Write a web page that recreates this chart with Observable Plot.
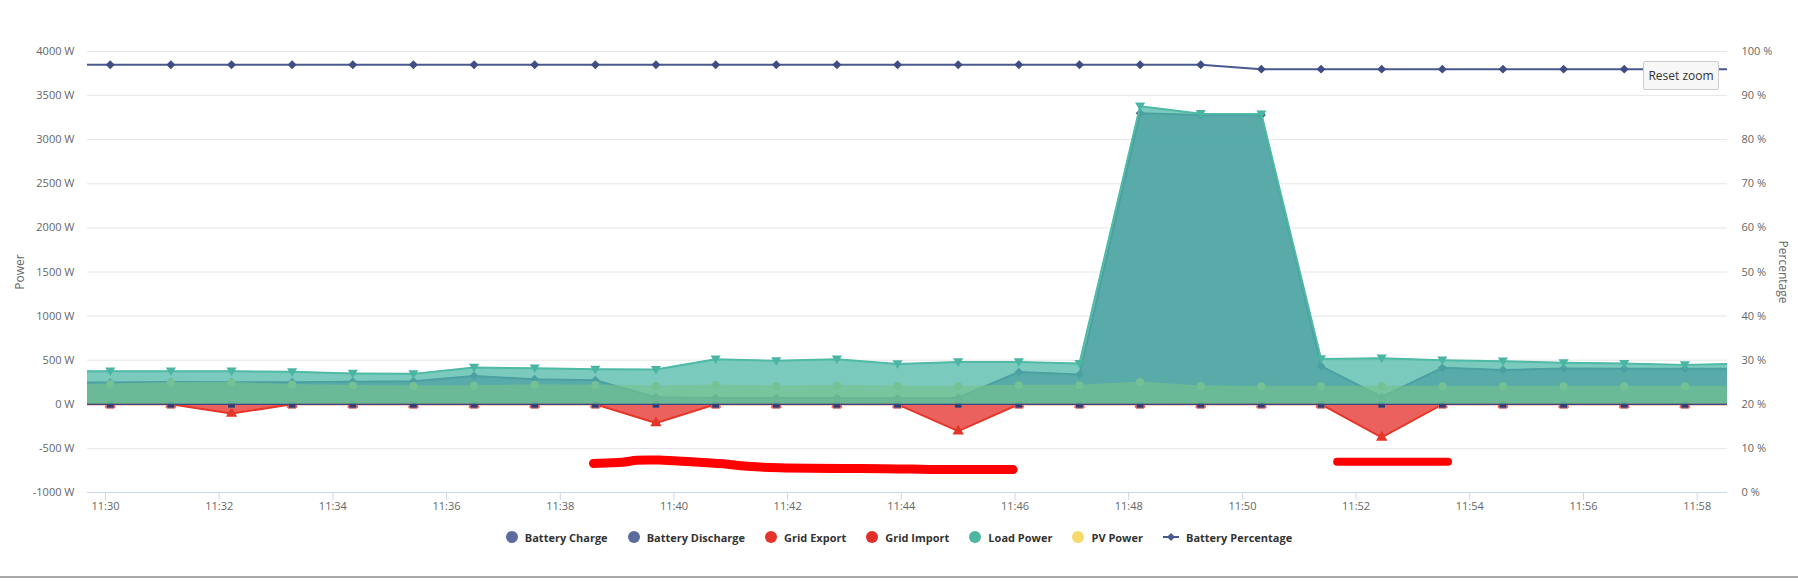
<!DOCTYPE html>
<html><head><meta charset="utf-8">
<script src="https://cdn.jsdelivr.net/npm/d3@7"></script>
<script src="https://cdn.jsdelivr.net/npm/@observablehq/plot@0.6"></script>
<style>
html,body{margin:0;padding:0;background:#fff;}
body{width:1798px;height:581px;position:relative;overflow:hidden;font-family:'Open Sans',sans-serif;}
#chart{position:absolute;left:0;top:0;}
#legend{position:absolute;left:0;top:528px;width:1798px;height:18px;display:flex;justify-content:center;align-items:center;gap:20px;font-weight:700;font-size:11px;color:#333;}
.item{display:flex;align-items:center;gap:7px;white-space:nowrap;}
.dot{width:12px;height:12px;border-radius:50%;}
#reset{position:absolute;left:1643px;top:61px;width:74px;height:27px;border:1px solid #ccc;border-radius:2px;background:#f7f7f7;color:#333;font-size:12px;display:flex;align-items:center;justify-content:center;}
#bottom{position:absolute;left:0;top:576px;width:1798px;height:2px;background:#aaa;}
</style></head><body>
<div id="chart"></div>
<div id="legend"></div>
<div id="reset">Reset zoom</div>
<div id="bottom"></div>
<script>
// ---- data ----
const times = ["11:29:02","11:30:05","11:31:09","11:32:13","11:33:17","11:34:21","11:35:25","11:36:29","11:37:33","11:38:37","11:39:41","11:40:44","11:41:48","11:42:52","11:43:56","11:45:00","11:46:04","11:47:08","11:48:12","11:49:16","11:50:20","11:51:23","11:52:27","11:53:31","11:54:35","11:55:39","11:56:43","11:57:47","11:58:51"];
const loadPower        = [375,375,375,375,368,349,345,417,409,396,394,512,493,512,457,480,481,462,3380,3295,3290,515,523,500,489,470,462,447,462];
const batteryDischarge = [246,246,252,250,250,255,262,322,284,273,80,72,72,72,70,75,365,337,3300,3280,3280,432,83,413,390,405,402,402,402];
const pvPower          = [228,229,248,248,224,212,208,210,222,218,208,220,208,212,208,206,216,216,254,208,206,205,205,205,205,205,205,205,205];
const gridImport       = [0,0,0,-105,0,0,0,0,0,0,-212,0,0,0,0,-305,0,0,0,0,0,0,-375,0,0,0,0,0,0];
const gridExport       = [0,0,0,0,0,0,0,0,0,0,0,0,0,0,0,0,0,0,0,0,0,0,0,0,0,0,0,0,0];
const batteryCharge    = [0,0,0,0,0,0,0,0,0,0,0,0,0,0,0,0,0,0,0,0,0,0,0,0,0,0,0,0,0];
const batteryPercentage= [97,97,97,97,97,97,97,97,97,97,97,97,97,97,97,97,97,97,97,97,96,96,96,96,96,96,96,96,96];

const xTickLabels = ["11:30","11:32","11:34","11:36","11:38","11:40","11:42","11:44","11:46","11:48","11:50","11:52","11:54","11:56","11:58"];
const powerTicks = [-1000,-500,0,500,1000,1500,2000,2500,3000,3500,4000];
const percentTicks = [0,10,20,30,40,50,60,70,80,90,100];
const xDomain = ["11:29:41","11:58:32"];

// hand-drawn red highlight strokes on the reference
const mark1Times = ["11:38:35","11:39:10","11:39:17","11:39:46","11:40:07","11:40:42","11:40:59","11:41:31","11:44:06","11:44:13","11:45:58"];
const mark1Vals  = [-670,-660,-630,-630,-645,-668,-680,-728,-728,-740,-740];
const mark2Times = ["11:51:40","11:53:37"];
const mark2Vals  = [-652,-652];

const legendItems = [
  {name:"Battery Charge", color:"#5b6b9e"},
  {name:"Battery Discharge", color:"#5b6b9e"},
  {name:"Grid Export", color:"#e53528"},
  {name:"Grid Import", color:"#e02f2a"},
  {name:"Load Power", color:"#4db6a0"},
  {name:"PV Power", color:"#f7d96a"},
  {name:"Battery Percentage", color:"#4a5a90", line:true}
];

// ---- helpers ----
const T = s => new Date(`2024-01-01T${s}Z`);
const pctToW = p => p * 50 - 1000; // secondary axis 0..100 % spans -1000..4000 W
const rows = vals => times.map((s, i) => ({t: T(s), v: vals[i]}));
const loadRows = rows(loadPower), disRows = rows(batteryDischarge), pvRows = rows(pvPower);
const impRows = rows(gridImport), expRows = rows(gridExport), chgRows = rows(batteryCharge);
const pctRows = rows(batteryPercentage.map(pctToW));
const m1 = mark1Times.map((s,i)=>({t:T(s), v:mark1Vals[i]}));
const m2 = mark2Times.map((s,i)=>({t:T(s), v:mark2Vals[i]}));
const fmt = d3.utcFormat("%H:%M");

const triDown = {draw(ctx, size){ const s = Math.sqrt(size); ctx.moveTo(-0.62*s, -0.45*s); ctx.lineTo(0.62*s, -0.45*s); ctx.lineTo(0, 0.6*s); ctx.closePath(); }};

const teal = "#4db8a8", blue = "#4a5a8c", red = "#e53935", pv = "#75c28e";
const zero = () => 0;

const chart = Plot.plot({
  width: 1798, height: 520,
  marginTop: 51, marginBottom: 28, marginLeft: 87, marginRight: 71,
  style: {fontFamily: "'Open Sans', sans-serif", fontSize: "11px", background: "transparent", color: "#666"},
  x: {type: "utc", domain: xDomain.map(T)},
  y: {domain: [-1000, 4000]},
  marks: [
    Plot.gridY(powerTicks, {stroke: "#e6e6e6", strokeOpacity: 1, strokeWidth: 1}),
    Plot.axisY(powerTicks, {anchor: "left", tickSize: 0, tickPadding: 13, tickFormat: d => `${d} W`, label: null, fill: "#666"}),
    Plot.axisY(percentTicks.map(pctToW), {anchor: "right", tickSize: 0, tickPadding: 14, tickFormat: w => `${Math.round((w + 1000) / 50)} %`, label: null, fill: "#666", textAnchor: "start"}),
    Plot.axisX(xTickLabels.map(T), {tickSize: 8, tickPadding: 2, stroke: "#ccd6eb", fill: "#666", tickFormat: fmt, label: null}),
    Plot.ruleY([-1000], {stroke: "#ccd6eb"}),
    Plot.text(["Power"], {frameAnchor: "left", dx: -67, rotate: -90, textAnchor: "middle", fill: "#666", fontSize: 12}),
    Plot.text(["Percentage"], {frameAnchor: "right", dx: 55, rotate: 90, textAnchor: "middle", fill: "#666", fontSize: 12}),

    // Battery Discharge
    Plot.areaY(disRows, {x: "t", y1: zero, y2: "v", fill: blue, fillOpacity: 0.75, clip: true}),
    Plot.line(disRows, {x: "t", y: "v", stroke: blue, strokeWidth: 2, clip: true}),
    Plot.dot(disRows, {x: "t", y: "v", symbol: "diamond2", r: 4, fill: blue, clip: true}),
    // Grid Import
    Plot.areaY(impRows, {x: "t", y1: zero, y2: "v", fill: red, fillOpacity: 0.8, clip: true}),
    Plot.line(impRows, {x: "t", y: "v", stroke: "#e53528", strokeWidth: 2, clip: true}),
    Plot.dot(impRows, {x: "t", y: "v", symbol: "triangle", r: 4.2, fill: "#e53528", clip: true}),
    // Battery Charge / Grid Export at zero
    Plot.dot(expRows, {x: "t", y: "v", symbol: "square", r: 4.4, fill: "#323c72", stroke: "#e8706a", strokeWidth: 1, clip: true}),
    // Load Power
    Plot.areaY(loadRows, {x: "t", y1: zero, y2: "v", fill: teal, fillOpacity: 0.75, clip: true}),
    Plot.line(loadRows, {x: "t", y: "v", stroke: "#4fbaa5", strokeWidth: 2, clip: true}),
    Plot.dot(loadRows, {x: "t", y: "v", symbol: triDown, r: 4.6, fill: "#4ab5a3", clip: true}),
    // PV Power
    Plot.areaY(pvRows, {x: "t", y1: zero, y2: "v", fill: pv, fillOpacity: 0.65, clip: true}),
    Plot.dot(pvRows, {x: "t", y: "v", symbol: "circle", r: 4, fill: "#74c196", clip: true}),
    Plot.line(chgRows, {x: "t", y: "v", stroke: "#3d467a", strokeWidth: 1.3, clip: true}),
    // Battery Percentage (secondary axis)
    Plot.line(pctRows, {x: "t", y: "v", stroke: "#4a5a90", strokeWidth: 2, clip: true}),
    Plot.dot(pctRows, {x: "t", y: "v", symbol: "diamond2", r: 4, fill: "#3f4d82", clip: true}),
    // red highlight strokes
    Plot.line(m1, {x: "t", y: "v", stroke: "#ff0000", strokeWidth: 9, strokeLinecap: "round", strokeLinejoin: "round", curve: "basis"}),
    Plot.line(m2, {x: "t", y: "v", stroke: "#ff0000", strokeWidth: 8, strokeLinecap: "round"})
  ]
});
document.getElementById("chart").appendChild(chart);

const legend = document.getElementById("legend");
for (const it of legendItems) {
  const el = document.createElement("div");
  el.className = "item";
  if (it.line) {
    el.innerHTML = `<svg width="16" height="12"><line x1="0" y1="6" x2="16" y2="6" stroke="${it.color}" stroke-width="2"/><path d="M8 2 L12 6 L8 10 L4 6 Z" fill="${it.color}"/></svg>`;
  } else {
    el.innerHTML = `<span class="dot" style="background:${it.color}"></span>`;
  }
  const txt = document.createElement("span");
  txt.textContent = it.name;
  el.appendChild(txt);
  legend.appendChild(el);
}
</script></body></html>
